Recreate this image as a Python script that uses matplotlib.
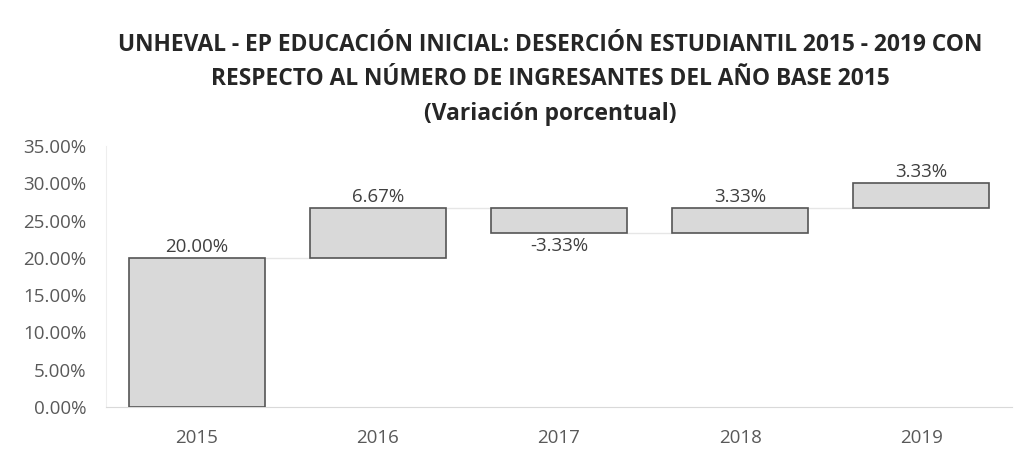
import matplotlib.pyplot as plt
import numpy as np
from matplotlib.ticker import FuncFormatter

years = ['2015', '2016', '2017', '2018', '2019']
changes = [20.00, 6.67, -3.33, 3.33, 3.33]

title = ('UNHEVAL - EP EDUCACIÓN INICIAL: DESERCIÓN ESTUDIANTIL 2015 - 2019 CON\n'
         'RESPECTO AL NÚMERO DE INGRESANTES DEL AÑO BASE 2015\n'
         '(Variación porcentual)')

plt.rcParams['font.family'] = ['Open Sans', 'DejaVu Sans']

fig = plt.figure(figsize=(10.15, 4.58), dpi=100)
ax = fig.add_axes([106/1015, 1 - 407/458, (1012-106)/1015, (407-146)/458])

x = np.arange(len(years))
ends = np.cumsum(changes)
starts = ends - np.array(changes)
bottoms = np.minimum(starts, ends)
heights = np.abs(changes)

ax.bar(x, heights, bottom=bottoms, width=0.75, color='#d9d9d9',
       edgecolor='#555555', linewidth=1.2, zorder=3)

# connector lines
for i in range(len(x) - 1):
    ax.plot([x[i] + 0.375, x[i+1] - 0.375], [ends[i], ends[i]],
            color='#e6e6e6', linewidth=1, zorder=2)

for i, v in enumerate(changes):
    if v >= 0:
        ax.text(x[i], ends[i] + 0.3, '%.2f%%' % v, ha='center', va='bottom',
                fontsize=13.5, color='#404040')
    else:
        ax.text(x[i], ends[i] - 0.5, '%.2f%%' % v, ha='center', va='top',
                fontsize=13.5, color='#404040')

ax.set_xlim(-0.5, len(years) - 0.5)
ax.set_ylim(0, 35)
ax.set_yticks(np.arange(0, 36, 5))
ax.yaxis.set_major_formatter(FuncFormatter(lambda v, p: '%.2f%%' % v))
ax.set_xticks(x)
ax.set_xticklabels(years)
ax.tick_params(length=0, labelsize=13.5, labelcolor='#595959')
ax.tick_params(axis='x', pad=16)
ax.tick_params(axis='y', pad=14)

for s in ['top', 'right']:
    ax.spines[s].set_visible(False)
ax.spines['bottom'].set_color('#d9d9d9')
ax.spines['left'].set_color('#eeeeee')

fig.text(0.542, 1 - 33/458, title, ha='center', va='top', fontsize=16.4,
         fontweight='bold', color='#262626', linespacing=1.58)

fig.savefig('out.png', dpi=100)
